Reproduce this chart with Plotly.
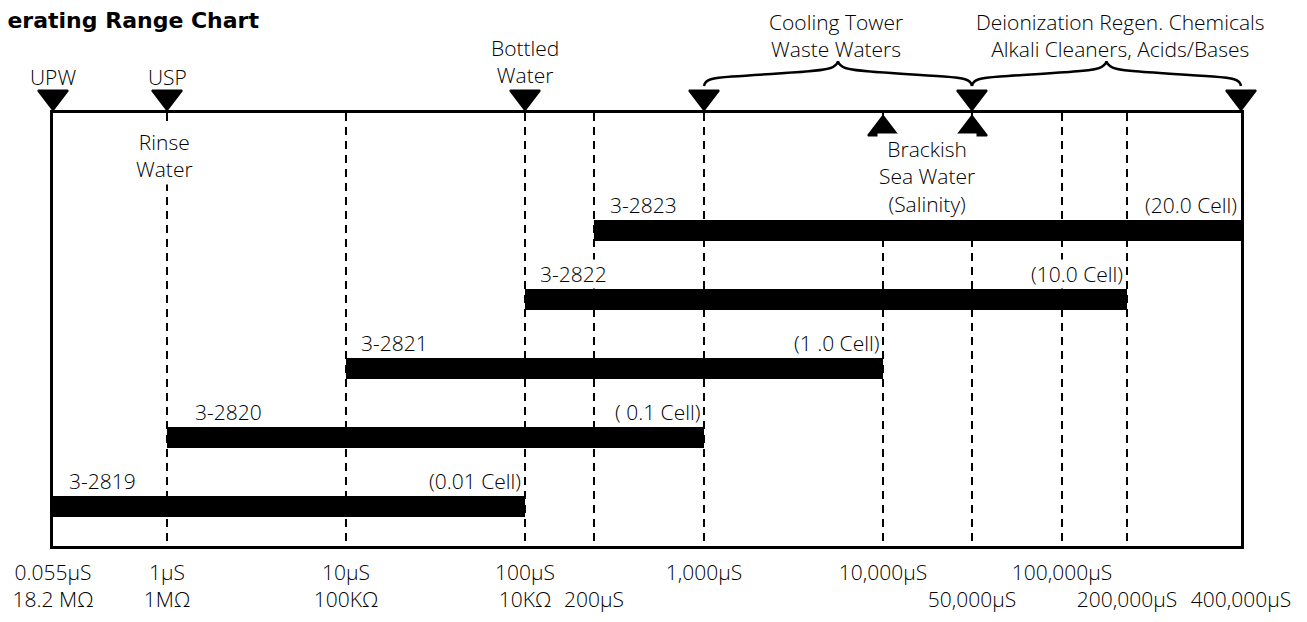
import numpy as np
import plotly.graph_objects as go

# ---------------- data ----------------
models = ["3-2819", "3-2820", "3-2821", "3-2822", "3-2823"]
cell_labels = ["(0.01 Cell)", "( 0.1 Cell)", "(1 .0 Cell)", "(10.0 Cell)", "(20.0 Cell)"]
range_start_us = [0.055, 1, 10, 100, 200]
range_end_us = [100, 1000, 10000, 200000, 400000]

tick_us = [0.055, 1, 10, 100, 200, 1000, 10000, 50000, 100000, 200000, 400000]
tick_text = ["0.055µS<br>18.2 MΩ", "1µS<br>1MΩ", "10µS<br>100KΩ", "100µS<br>10KΩ",
             " <br>200µS", "1,000µS", "10,000µS", " <br>50,000µS", "100,000µS",
             " <br>200,000µS", " <br>400,000µS"]

top_marker_us = [0.055, 1, 100, 1000, 50000, 400000]
inner_marker_us = [10000, 50000]

point_labels = ["UPW", "USP", "Bottled<br>Water"]
point_label_us = [0.055, 1, 100]
rinse_label = "Rinse<br>Water"
rinse_us = 1
brackish_label = "Brackish<br>Sea Water<br>(Salinity)"
brackish_span_us = [10000, 50000]

group_labels = ["Cooling Tower<br>Waste Waters",
                "Deionization Regen. Chemicals<br>Alkali Cleaners, Acids/Bases"]
group_spans_us = [[1000, 50000], [50000, 400000]]

title_text = "Operating Range Chart"

# ---------------- schematic (non-uniform) log scale of the chart ----------------
SCALE_US = [0.055, 1, 10, 100, 200, 1000, 10000, 50000, 100000, 200000, 400000]
SCALE_POS = [-0.637, 0, 1, 2, 2.385, 3, 4, 4.497, 5, 5.363, 6.0]


def U(v):
    return np.interp(np.log10(np.asarray(v, dtype=float)), np.log10(SCALE_US), SCALE_POS)


# layout geometry (page pixels; the page body adds an 8px margin)
OFF = 8
W, H = 1307 - 2 * OFF, 622 - 2 * OFF
L, R, T, B = 53, 1241, 113, 546
ROW_PX = 69.0
ROW0_PX = 506.5
BAR_PX = 21
UMIN, UMAX = float(U(0.055)), float(U(400000))
K = (UMAX - UMIN) / (R - L)  # axis units per pixel

FONT = "Open Sans"
FS = 21
TXT = dict(family=FONT, size=FS, color="black", weight=300)


def row_of_px(px):
    return (ROW0_PX - px) / ROW_PX


def X(px):
    return (px - OFF) / W


def py(px):
    return (H - (px - OFF)) / H


def pxx(u):
    return L + (u - UMIN) / K


rows = list(range(len(models)))
bar_w = BAR_PX / ROW_PX

fig = go.Figure()

u_start = U(range_start_us)
u_end = U(range_end_us)
fig.add_trace(go.Bar(
    orientation="h", y=rows, base=u_start, x=u_end - u_start, width=bar_w,
    marker=dict(color="black", line=dict(width=0)), hoverinfo="skip",
    xaxis="x", yaxis="y",
))

# triangles inside the frame
fig.add_trace(go.Scatter(
    x=U(inner_marker_us), y=[row_of_px(129)] * len(inner_marker_us), mode="markers",
    marker=dict(symbol="triangle-up", size=26, color="black", line=dict(color="black", width=2)),
    cliponaxis=False, hoverinfo="skip", xaxis="x", yaxis="y",
))

# triangles above the frame (strip subplot sharing the same x scale)
fig.add_trace(go.Scatter(
    x=U(top_marker_us), y=[97] * len(top_marker_us), mode="markers",
    marker=dict(symbol="triangle-down", size=26, color="black", line=dict(color="black", width=2)),
    cliponaxis=False, hoverinfo="skip", xaxis="x2", yaxis="y2",
))

ann = []
label_xshift = [15, 27, 14, 14, 15]
for i, m in enumerate(models):
    ytop = i + bar_w / 2
    ann.append(dict(x=float(u_start[i]), y=ytop, xref="x", yref="y", text=m, showarrow=False,
                    xanchor="left", yanchor="bottom", xshift=label_xshift[i], yshift=0, font=TXT,
                    bgcolor="white", borderpad=0))
    ann.append(dict(x=float(u_end[i]), y=ytop, xref="x", yref="y", text=cell_labels[i], showarrow=False,
                    xanchor="right", yanchor="bottom", xshift=-3, yshift=0, font=TXT,
                    bgcolor="white", borderpad=0))

for lab, v, mid in zip(point_labels, point_label_us, [77, 77, 61]):
    ann.append(dict(x=float(U(v)), y=py(mid), xref="x", yref="paper", text=lab, showarrow=False,
                    xanchor="center", yanchor="middle", font=TXT))

ann.append(dict(x=float(U(rinse_us)), y=py(156), xref="x", yref="paper", text=rinse_label, showarrow=False,
                xanchor="center", yanchor="middle", xshift=-3, font=TXT, bgcolor="white"))
ann.append(dict(x=float(np.mean(U(brackish_span_us))), y=py(176), xref="x", yref="paper", text=brackish_label,
                showarrow=False, xanchor="center", yanchor="middle", font=TXT, bgcolor="white"))

group_xshift = [-2, 14]
shapes = []
for lab, span, xs in zip(group_labels, group_spans_us, group_xshift):
    ua, ub = U(span)
    ann.append(dict(x=float((ua + ub) / 2), y=py(35), xref="x", yref="paper", text=lab, showarrow=False,
                    xanchor="center", yanchor="middle", xshift=xs, font=TXT, borderpad=0))
    x1, x2 = pxx(ua), pxx(ub)
    xm = (x1 + x2) / 2
    pts = [
        ("M", [(x1, 86)]),
        ("C", [(x1 + 1, 79), (x1 + 8, 78), (x1 + 28, 76.5)]),
        ("C", [(xm - 60, 73), (xm - 12, 72), (xm - 5, 67)]),
        ("C", [(xm - 2, 65), (xm, 63), (xm, 61)]),
        ("C", [(xm, 63), (xm + 2, 65), (xm + 5, 67)]),
        ("C", [(xm + 12, 72), (xm + 60, 73), (x2 - 28, 76.5)]),
        ("C", [(x2 - 8, 78), (x2 - 1, 79), (x2, 86)]),
    ]
    d = ""
    for cmd, ps in pts:
        d += cmd + " ".join(f"{X(a):.5f},{py(b):.5f}" for a, b in ps) + " "
    shapes.append(dict(type="path", xref="paper", yref="paper", path=d.strip(),
                       line=dict(color="black", width=2.5)))

# title (cropped at the left edge like the reference)
ann.append(dict(x=X(260), y=py(20), xref="paper", yref="paper", text="<b>" + title_text + "</b>",
                showarrow=False, xanchor="right", yanchor="middle", borderpad=0,
                font=dict(family="DejaVu Sans", size=22, color="black")))

fig.update_layout(
    width=W, height=H,
    margin=dict(l=0, r=0, t=0, b=0, pad=0),
    paper_bgcolor="white", plot_bgcolor="rgba(0,0,0,0)",
    showlegend=False, barmode="overlay",
    annotations=ann, shapes=shapes,
    hovermode=False,
    font=TXT,
    xaxis=dict(
        domain=[X(L), X(R)], anchor="y",
        range=[UMIN, UMAX], tickvals=U(tick_us).tolist(), ticktext=tick_text, tickangle=0,
        showgrid=True, gridcolor="black", gridwidth=1.8, griddash="8px,6px",
        showline=True, mirror=True, linecolor="black", linewidth=2.5,
        zeroline=False, ticks="", ticklabelstandoff=6, automargin=False,
        tickfont=TXT, fixedrange=True,
    ),
    yaxis=dict(
        domain=[py(B), py(T)], anchor="x",
        range=[row_of_px(B), row_of_px(T)], showgrid=False, zeroline=False, showticklabels=False,
        showline=True, mirror=True, linecolor="black", linewidth=2.5, ticks="", fixedrange=True,
        automargin=False,
    ),
    xaxis2=dict(
        domain=[0, 1], anchor="y2", range=[UMIN - (L - OFF) * K, UMAX + (W + OFF - R) * K],
        visible=False, fixedrange=True,
    ),
    yaxis2=dict(
        domain=[py(T), 1], anchor="x2", range=[T, OFF],
        visible=False, fixedrange=True,
    ),
)

fig.write_html("out.html")
